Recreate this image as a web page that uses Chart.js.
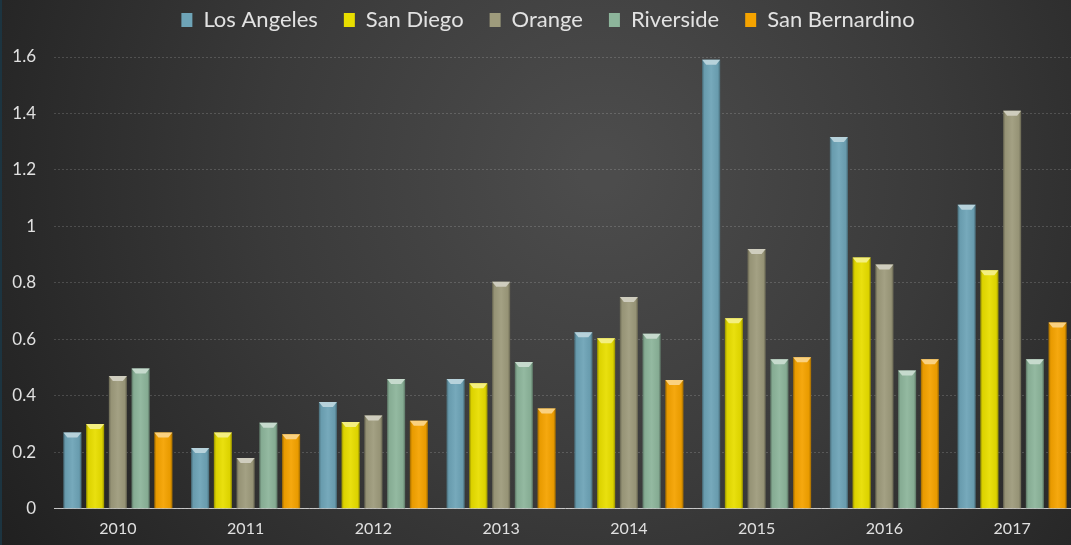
<!DOCTYPE html>
<html>
<head>
<meta charset="utf-8">
<script src="https://cdn.jsdelivr.net/npm/chart.js@4.4.1/dist/chart.umd.min.js"></script>
<style>
  html, body { margin: 0; padding: 0; background: #2a2a2a; overflow: hidden; }
  #wrap { width: 1076px; height: 545px; }
</style>
</head>
<body>
<div id="wrap"><canvas id="c" width="1076" height="545"></canvas></div>
<script>
const categories = ['2010', '2011', '2012', '2013', '2014', '2015', '2016', '2017'];
const losAngeles    = [0.27, 0.215, 0.378, 0.46, 0.625, 1.59, 1.317, 1.077];
const sanDiego      = [0.30, 0.27, 0.307, 0.445, 0.604, 0.675, 0.89, 0.845];
const orange        = [0.47, 0.18, 0.33, 0.804, 0.75, 0.92, 0.865, 1.41];
const riverside     = [0.497, 0.305, 0.46, 0.52, 0.62, 0.53, 0.49, 0.53];
const sanBernardino = [0.27, 0.264, 0.312, 0.355, 0.456, 0.537, 0.53, 0.66];
const seriesNames = ['Los Angeles', 'San Diego', 'Orange', 'Riverside', 'San Bernardino'];
const seriesColors = ['#6ea4b7', '#e8de00', '#9e9b7c', '#8db59b', '#f5a300'];
const tickValues = [0, 0.2, 0.4, 0.6, 0.8, 1, 1.2, 1.4, 1.6];
const tickLabels = ['0', '0.2', '0.4', '0.6', '0.8', '1', '1.2', '1.4', '1.6'];

const seriesData = [losAngeles, sanDiego, orange, riverside, sanBernardino];

const bgPlugin = {
  id: 'bg',
  beforeDraw(chart) {
    const ctx = chart.ctx;
    const w = chart.width, h = chart.height;
    ctx.save();
    const g = ctx.createRadialGradient(600, 170, 20, 600, 170, 720);
    g.addColorStop(0, '#4c4c4c');
    g.addColorStop(0.45, '#3a3a3a');
    g.addColorStop(1, '#1f1f1f');
    ctx.fillStyle = g;
    ctx.fillRect(0, 0, w, h);
    ctx.fillStyle = '#1c3440';
    ctx.fillRect(0, 0, 2, h);
    ctx.restore();
  }
};

const legendFit = {
  id: 'legendFit',
  beforeInit(chart) {
    const orig = chart.legend.fit;
    chart.legend.fit = function () {
      orig.bind(chart.legend)();
      this.height += 16;
    };
  },
  afterLayout(chart) {
    chart.legend.left += 10;
    chart.legend.right += 10;
  }
};

function lighten(hex, amt) {
  const n = parseInt(hex.slice(1), 16);
  let r = (n >> 16) & 255, g = (n >> 8) & 255, b = n & 255;
  r = Math.round(r + (255 - r) * amt);
  g = Math.round(g + (255 - g) * amt);
  b = Math.round(b + (255 - b) * amt);
  return `rgb(${r},${g},${b})`;
}

const barShade = {
  id: 'barShade',
  afterDatasetsDraw(chart) {
    const ctx = chart.ctx;
    chart.data.datasets.forEach((ds, di) => {
      const meta = chart.getDatasetMeta(di);
      meta.data.forEach(bar => {
        const p = bar.getProps(['x', 'y', 'base', 'width'], true);
        const left = p.x - p.width / 2, right = p.x + p.width / 2;
        const top = p.y, bottom = p.base;
        ctx.save();
        const g = ctx.createLinearGradient(left, 0, right, 0);
        g.addColorStop(0, 'rgba(0,0,0,0.35)');
        g.addColorStop(0.12, 'rgba(0,0,0,0.05)');
        g.addColorStop(0.5, 'rgba(255,255,255,0.06)');
        g.addColorStop(0.88, 'rgba(0,0,0,0.05)');
        g.addColorStop(1, 'rgba(0,0,0,0.35)');
        ctx.fillStyle = g;
        ctx.fillRect(left, top, right - left, bottom - top);
        const capH = 5;
        ctx.beginPath();
        ctx.moveTo(left, top);
        ctx.lineTo(right, top);
        ctx.lineTo(right - 4, top + capH);
        ctx.lineTo(left + 4, top + capH);
        ctx.closePath();
        ctx.fillStyle = lighten(ds.backgroundColor, 0.5);
        ctx.fill();
        ctx.restore();
      });
    });
  }
};

new Chart(document.getElementById('c'), {
  type: 'bar',
  data: {
    labels: categories,
    datasets: seriesNames.map((name, i) => ({
      label: name,
      data: seriesData[i],
      backgroundColor: seriesColors[i],
      borderWidth: 0,
      categoryPercentage: 0.89,
      barPercentage: 0.79
    }))
  },
  options: {
    responsive: false,
    animation: false,
    devicePixelRatio: 1,
    layout: { padding: { left: 0, right: 0, top: -17, bottom: -3 } },
    plugins: {
      legend: {
        position: 'top',
        labels: {
          color: '#e2e2e2',
          font: { family: 'Lato', size: 22 },
          boxWidth: 11,
          boxHeight: 14,
          padding: 26,
          generateLabels(chart) {
            return chart.data.datasets.map((ds, i) => ({
              text: ds.label,
              fillStyle: ds.backgroundColor,
              strokeStyle: ds.backgroundColor,
              lineWidth: 0,
              fontColor: '#e2e2e2',
              datasetIndex: i,
              hidden: false
            }));
          }
        }
      },
      tooltip: { enabled: false }
    },
    scales: {
      x: {
        grid: { display: false, drawTicks: false },
        border: { display: true, color: 'rgba(230,230,230,0.8)', width: 1, dash: [2, 1] },
        ticks: { color: '#e0e0e0', font: { family: 'Lato', size: 16 }, padding: 10 }
      },
      y: {
        min: 0,
        max: 1.6,
        afterBuildTicks(axis) { axis.ticks = tickValues.map(v => ({ value: v })); },
        afterFit(axis) { axis.width = 54; },
        grid: {
          color: 'rgba(255,255,255,0.16)',
          lineWidth: 1,
          drawTicks: false
        },
        border: { display: false, dash: [2, 2] },
        ticks: {
          color: '#e0e0e0',
          font: { family: 'Lato', size: 17 },
          padding: 18,
          callback(value) {
            const i = tickValues.indexOf(value);
            return i >= 0 ? tickLabels[i] : '';
          }
        }
      }
    }
  },
  plugins: [bgPlugin, legendFit, barShade]
});
</script>
</body>
</html>
